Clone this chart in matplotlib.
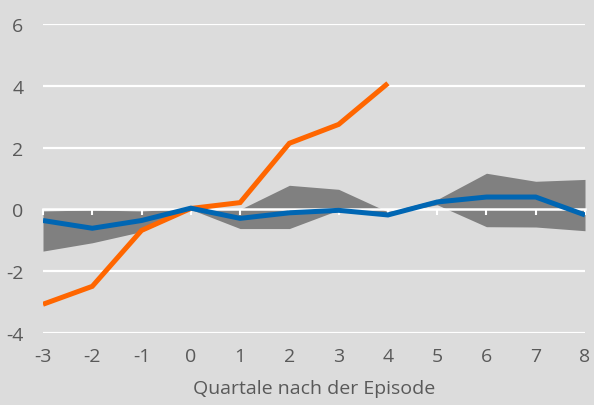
import numpy as np
import matplotlib.pyplot as plt

plt.rcParams['font.family'] = ['Open Sans', 'DejaVu Sans']
plt.rcParams['axes.unicode_minus'] = False

quarters = [-3, -2, -1, 0, 1, 2, 3, 4, 5, 6, 7, 8]
orange_q = [-3, -2, -1, 0, 1, 2, 3, 4]
orange_vals = [-3.07, -2.49, -0.68, 0.03, 0.22, 2.14, 2.75, 4.08]
blue_vals = [-0.36, -0.61, -0.36, 0.04, -0.29, -0.11, -0.03, -0.18, 0.24, 0.40, 0.40, -0.18]
band_upper = [-0.05, -0.02, -0.05, 0.02, 0.0, 0.78, 0.65, -0.08, 0.32, 1.17, 0.91, 0.97]
band_lower = [-1.35, -1.08, -0.72, 0.0, -0.62, -0.62, -0.02, -0.15, 0.15, -0.56, -0.57, -0.69]

bg = '#dcdcdc'
txt = '#595959'

fig = plt.figure(figsize=(5.94, 4.06), dpi=100, facecolor=bg)
ax = fig.add_axes([43 / 594, 1 - 334 / 406, 542 / 594, 309 / 406], facecolor=bg)

ymin, ymax = -4, 6
ax.set_ylim(ymin, ymax)
ax.set_xlim(-3, 8)

ax.fill_between(quarters, band_lower, band_upper, color='#808080', lw=0, zorder=1)
for y in [-4, -2, 2, 4, 6]:
    ax.axhline(y, color='white', lw=1.6, zorder=2)

# zero line with ticks
sec = ax.secondary_xaxis((0 - ymin) / (ymax - ymin))
sec.set_xticks(quarters)
sec.tick_params(axis='x', direction='out', length=4, width=1.5, color='white', labelbottom=False, labeltop=False)
sec.spines['bottom'].set_color('white')
sec.spines['bottom'].set_linewidth(1.8)
sec.set_zorder(2)

ax.plot(orange_q, orange_vals, color='#ff6600', lw=3.6, zorder=4, solid_joinstyle='miter', solid_capstyle='butt')
ax.plot(quarters, blue_vals, color='#0066b3', lw=3.6, zorder=5, solid_joinstyle='miter', solid_capstyle='butt')

for s in ax.spines.values():
    s.set_visible(False)

ax.set_xticks(quarters)
ax.set_xticklabels([str(q) for q in quarters])
ax.set_yticks([-4, -2, 0, 2, 4, 6])
ax.tick_params(axis='both', length=0, labelsize=14, labelcolor=txt)
ax.tick_params(axis='y', pad=14)
ax.tick_params(axis='x', pad=10)
ax.set_xlabel('Quartale nach der Episode', fontsize=14, color=txt, labelpad=10)

fig.savefig('out.png', dpi=100, facecolor=bg)
